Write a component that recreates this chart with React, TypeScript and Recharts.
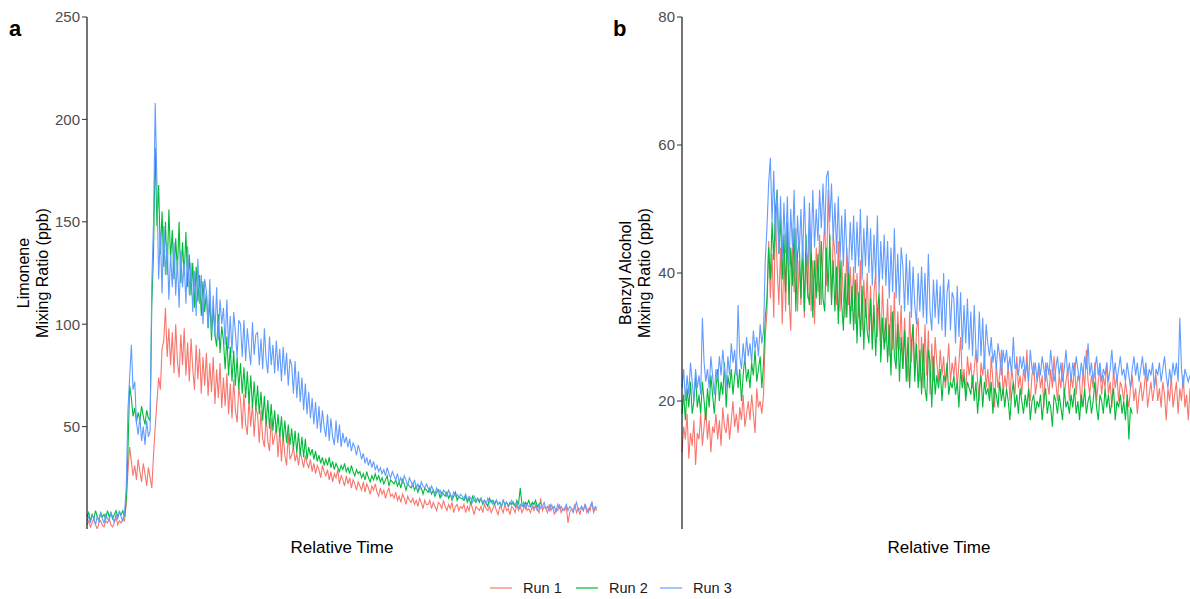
import React from 'react';
import { LineChart, Line, XAxis, YAxis } from 'recharts';

const FONT = '"Liberation Sans", Arial, Helvetica, sans-serif';
const runColors = ['#F8766D', '#00BA38', '#619CFF'];
const runLabels = ['Run 1', 'Run 2', 'Run 3'];
const limTicks = [50, 100, 150, 200, 250];
const benTicks = [20, 40, 60, 80];

// Panel a: Limonene mixing ratio (ppb), 300 time steps
const limRun1 = [
  2, 4, 1, 3, 5, 2, 0, 3, 4, 2,
  1, 4, 3, 5, 2, 1, 3, 6, 2, 4,
  3, 5, 4, 12, 28, 40, 33, 26, 31, 24,
  34, 28, 23, 32, 27, 21, 30, 25, 20, 36,
  50, 62, 74, 68, 88, 92, 108, 84, 98, 80,
  96, 76, 100, 82, 74, 95, 80, 98, 75, 91,
  72, 93, 78, 68, 90, 73, 88, 66, 84, 70,
  86, 65, 81, 67, 84, 61, 78, 64, 81, 59,
  74, 60, 76, 56, 71, 54, 73, 58, 52, 69,
  63, 49, 66, 51, 46, 64, 50, 61, 45, 59,
  56, 42, 58, 44, 40, 55, 43, 38, 54, 41,
  45, 50, 35, 48, 33, 46, 36, 31, 47, 34,
  36, 40, 33, 37, 31, 38, 34, 30, 36, 32,
  30, 34, 28, 32, 27, 31, 29, 25, 31, 28,
  26, 29, 24, 28, 23, 27, 25, 29, 22, 26,
  24, 21, 26, 22, 25, 20, 24, 22, 19, 23,
  21, 19, 23, 18, 22, 20, 17, 21, 19, 22,
  18, 16, 20, 17, 19, 15, 18, 20, 16, 17,
  15, 18, 14, 16, 13, 17, 15, 12, 16, 14,
  13, 15, 12, 14, 11, 15, 13, 10, 14, 12,
  12, 14, 10, 13, 11, 9, 13, 12, 10, 14,
  11, 9, 12, 10, 13, 8, 11, 12, 9, 11,
  10, 12, 8, 11, 9, 13, 10, 7, 11, 10,
  9, 11, 8, 12, 10, 9, 11, 8, 10, 12,
  9, 7, 11, 10, 8, 12, 9, 10, 7, 11,
  10, 8, 12, 9, 11, 8, 10, 13, 9, 10,
  8, 11, 9, 12, 10, 8, 15, 9, 11, 10,
  8, 12, 9, 11, 7, 10, 9, 12, 8, 10,
  9, 11, 3, 8, 10, 9, 12, 8, 10, 7,
  11, 9, 12, 8, 10, 9, 13, 8, 10, 9,
];
const limRun2 = [
  6, 8, 4, 7, 5, 9, 6, 4, 8, 6,
  7, 5, 9, 6, 8, 5, 7, 9, 6, 8,
  7, 9, 6, 14, 38, 70, 64, 55, 59, 52,
  57, 53, 60, 55, 51, 58, 54, 53, 110, 135,
  186, 148, 168, 134, 155, 128, 150, 124, 156, 132,
  146, 122, 142, 126, 150, 120, 140, 124, 145, 118,
  134, 114, 130, 108, 128, 111, 124, 104, 121, 106,
  116, 98, 112, 92, 108, 95, 89, 105, 86, 99,
  92, 78, 94, 75, 89, 72, 87, 70, 84, 68,
  81, 66, 79, 64, 77, 61, 75, 59, 72, 58,
  70, 56, 67, 53, 65, 51, 63, 49, 61, 48,
  58, 47, 56, 45, 55, 43, 53, 42, 51, 41,
  49, 39, 48, 37, 47, 36, 45, 35, 44, 34,
  40, 36, 39, 34, 38, 33, 36, 32, 35, 31,
  34, 31, 35, 30, 33, 29, 32, 30, 28, 31,
  29, 32, 28, 30, 27, 31, 28, 26, 29, 27,
  28, 25, 27, 24, 28, 25, 23, 26, 24, 27,
  24, 26, 23, 25, 22, 24, 26, 21, 24, 23,
  22, 24, 21, 23, 20, 24, 22, 19, 22, 21,
  20, 22, 19, 21, 18, 21, 20, 17, 20, 19,
  18, 20, 17, 19, 16, 18, 19, 15, 18, 17,
  16, 18, 15, 17, 14, 16, 18, 14, 16, 15,
  15, 14, 16, 13, 15, 12, 16, 14, 13, 15,
  13, 15, 12, 14, 13, 11, 15, 13, 14, 12,
  14, 12, 13, 11, 14, 12, 13, 11, 13, 12,
  13, 11, 14, 12, 20, 12, 11, 13, 12, 14,
  11, 13, 12, 14, 11, 12, 13,
];
const limRun3 = [
  4, 6, 3, 7, 5, 2, 6, 4, 8, 5,
  3, 7, 5, 4, 8, 6, 3, 7, 5, 9,
  6, 4, 8, 20, 58, 74, 90, 68, 72, 52,
  46, 55, 43, 50, 41, 53, 45, 48, 120, 150,
  208, 168, 122, 145, 115, 148, 124, 140, 112, 134,
  118, 140, 114, 132, 108, 136, 118, 130, 110, 138,
  114, 130, 106, 126, 104, 132, 110, 124, 100, 122,
  116, 98, 122, 96, 114, 94, 118, 92, 112, 100,
  108, 90, 112, 88, 104, 86, 106, 96, 84, 102,
  100, 84, 102, 82, 98, 88, 80, 101, 85, 95,
  96, 80, 93, 78, 98, 83, 76, 94, 80, 90,
  76, 92, 77, 88, 72, 89, 75, 86, 70, 83,
  80, 66, 82, 64, 77, 62, 74, 58, 71, 56,
  67, 54, 64, 51, 62, 49, 60, 47, 58, 50,
  45, 56, 43, 54, 45, 41, 53, 42, 51, 40,
  47, 42, 45, 40, 44, 38, 42, 40, 36, 41,
  38, 34, 37, 32, 35, 31, 34, 30, 33, 29,
  31, 28, 30, 27, 29, 26, 30, 27, 25, 28,
  26, 24, 27, 23, 25, 22, 26, 24, 21, 25,
  23, 21, 24, 20, 22, 19, 23, 21, 20, 22,
  20, 18, 21, 19, 17, 20, 18, 19, 16, 19,
  18, 16, 19, 17, 15, 18, 16, 17, 15, 17,
  16, 15, 17, 14, 16, 15, 13, 16, 14, 15,
  14, 15, 13, 14, 12, 15, 13, 14, 12, 13,
  14, 12, 13, 11, 14, 12, 13, 11, 12, 14,
  12, 11, 13, 10, 12, 11, 13, 10, 12, 11,
  11, 12, 10, 11, 9, 12, 10, 11, 13, 10,
  11, 9, 12, 10, 11, 8, 12, 10, 11, 9,
  10, 12, 9, 11, 10, 8, 11, 13, 9, 10,
  11, 9, 12, 10, 8, 11, 13, 9, 11, 10,
];

// Panel b: Benzyl alcohol mixing ratio (ppb), 300 time steps
const benRun1 = [
  12, 16, 14, 18, 11, 15, 13, 17, 10, 15,
  14, 18, 13, 16, 19, 14, 17, 12, 16, 15,
  18, 14, 17, 13, 19, 16, 15, 18, 14, 17,
  20, 16, 18, 15, 19, 17, 21, 16, 18, 20,
  17, 21, 18, 15, 22, 19, 20, 18, 21, 30,
  34, 45, 36, 43, 33, 49, 41, 35, 44, 32,
  43, 34, 46, 36, 31, 44, 37, 47, 34, 42,
  35, 45, 33, 43, 36, 48, 34, 42, 32, 44,
  37, 46, 35, 43, 48, 38, 53, 44, 36, 46,
  43, 35, 45, 34, 42, 36, 33, 44, 35, 41,
  34, 41, 32, 40, 33, 42, 31, 39, 33, 40,
  31, 38, 29, 37, 40, 30, 36, 28, 38, 31,
  29, 36, 27, 35, 28, 37, 26, 34, 28, 35,
  25, 33, 27, 23, 34, 26, 32, 24, 31, 33,
  23, 30, 22, 32, 24, 31, 21, 29, 23, 30,
  26, 23, 28, 24, 27, 22, 25, 29, 23, 26,
  24, 27, 22, 26, 30, 23, 25, 21, 27, 24,
  26, 22, 25, 28, 23, 20, 26, 24, 27, 22,
  25, 21, 27, 23, 19, 26, 22, 24, 28, 21,
  24, 22, 26, 20, 25, 23, 21, 27, 22, 24,
  21, 25, 23, 28, 22, 20, 24, 26, 21, 23,
  25, 22, 24, 19, 26, 23, 21, 25, 22, 27,
  23, 20, 24, 22, 26, 21, 23, 25, 20, 24,
  22, 26, 21, 24, 23, 19, 25, 22, 28, 23,
  21, 24, 22, 26, 20, 23, 25, 21, 24, 22,
  26, 21, 23, 19, 25, 22, 24, 20, 23, 22,
  20, 23, 21, 19, 22, 24, 20, 22, 18, 21,
  23, 20, 22, 25, 19, 21, 23, 20, 22, 24,
  20, 22, 19, 23, 21, 17, 22, 20, 24, 19,
  21, 23, 18, 22, 20, 24, 19, 21, 17, 22,
];
const benRun2 = [
  18, 21, 17, 22, 19, 23, 18, 20, 24, 19,
  21, 18, 23, 20, 17, 22, 19, 24, 21, 18,
  22, 25, 20, 23, 21, 26, 19, 24, 22, 25,
  21, 24, 26, 22, 25, 20, 24, 27, 23, 25,
  22, 26, 24, 28, 23, 25, 27, 22, 26, 33,
  36, 44, 39, 48, 42, 50, 53, 43, 49, 39,
  46, 37, 48, 35, 44, 38, 47, 34, 43, 45,
  36, 44, 34, 46, 37, 35, 45, 33, 42, 36,
  43, 35, 45, 36, 34, 44, 37, 46, 35, 42,
  34, 41, 32, 42, 35, 31, 40, 33, 41, 32,
  38, 31, 39, 29, 37, 30, 38, 28, 36, 31,
  29, 36, 28, 35, 27, 34, 37, 26, 33, 28,
  33, 26, 32, 24, 34, 27, 25, 32, 23, 30,
  25, 31, 23, 30, 22, 29, 32, 23, 29, 22,
  28, 21, 29, 22, 20, 28, 26, 19, 27, 21,
  24, 22, 25, 20, 24, 23, 26, 21, 23, 22,
  24, 21, 23, 19, 25, 22, 24, 20, 23, 22,
  21, 24, 20, 23, 18, 22, 24, 19, 23, 21,
  22, 20, 23, 18, 22, 21, 19, 23, 20, 22,
  19, 22, 20, 17, 21, 23, 19, 21, 18, 22,
  20, 18, 21, 19, 22, 17, 20, 21, 18, 20,
  19, 21, 17, 20, 22, 18, 20, 19, 16, 21,
  20, 18, 21, 19, 17, 22, 19, 20, 18, 21,
  19, 22, 18, 20, 17, 21, 19, 22, 18, 20,
  21, 18, 20, 23, 19, 17, 21, 20, 18, 22,
  19, 21, 18, 20, 22, 17, 20, 19, 21, 18,
  20, 17, 21, 14, 19, 18,
];
const benRun3 = [
  22, 25, 20, 24, 21, 26, 23, 20, 25, 22,
  24, 21, 33, 26, 23, 25, 22, 27, 24, 21,
  25, 23, 27, 24, 28, 25, 22, 27, 24, 29,
  26, 28, 24, 35, 27, 25, 29, 26, 30, 27,
  29, 26, 31, 28, 30, 27, 32, 29, 31, 42,
  47, 54, 58, 48, 56, 45, 53, 43, 52, 42,
  51, 43, 52, 41, 50, 44, 53, 40, 49, 43,
  50, 42, 52, 44, 41, 51, 43, 53, 44, 50,
  45, 53, 47, 54, 46, 55, 56, 48, 54, 45,
  51, 43, 52, 42, 49, 41, 50, 43, 40, 48,
  42, 49, 40, 48, 41, 50, 39, 47, 41, 49,
  40, 47, 38, 46, 39, 49, 37, 45, 39, 46,
  38, 45, 36, 44, 37, 47, 36, 43, 35, 44,
  41, 34, 43, 35, 42, 33, 41, 35, 32, 40,
  34, 41, 33, 40, 32, 43, 34, 31, 39, 33,
  39, 32, 38, 31, 40, 30, 37, 39, 31, 37,
  36, 29, 38, 30, 37, 28, 35, 29, 36, 28,
  34, 27, 35, 28, 26, 34, 27, 33, 25, 32,
  29, 27, 30, 26, 28, 25, 29, 27, 24, 28,
  26, 28, 25, 27, 24, 30, 25, 26, 24, 27,
  25, 27, 24, 26, 23, 28, 25, 24, 26, 23,
  26, 24, 27, 25, 23, 26, 24, 28, 25, 23,
  25, 27, 24, 26, 23, 25, 28, 24, 26, 23,
  26, 24, 27, 25, 23, 26, 24, 27, 25, 29,
  24, 26, 23, 25, 27, 24, 26, 23, 25, 24,
  26, 23, 25, 28, 24, 26, 23, 25, 27, 24,
  25, 23, 26, 24, 22, 25, 27, 24, 26, 23,
  25, 27, 24, 26, 23, 25, 24, 26, 22, 25,
  24, 26, 23, 25, 27, 24, 22, 25, 23, 26,
  24, 26, 23, 33, 25, 22, 25, 24, 23, 24,
];

type Row = { t: number; r1: number | null; r2: number | null; r3: number | null };
function build(a: number[], b: number[], c: number[]): Row[] {
  const n = Math.max(a.length, b.length, c.length);
  const rows: Row[] = [];
  for (let i = 0; i < n; i++) {
    rows.push({
      t: i,
      r1: i < a.length ? a[i] : null,
      r2: i < b.length ? b[i] : null,
      r3: i < c.length ? c[i] : null,
    });
  }
  return rows;
}

const limData = build(limRun1, limRun2, limRun3);
const benData = build(benRun1, benRun2, benRun3);

const TICK_STYLE = { fill: '#4D4D4D', fontSize: 15, fontFamily: FONT };

function Panel({ left, width, data, domain, ticks }: { left: number; width: number; data: Row[]; domain: [number, number]; ticks: number[] }) {
  return (
    <div style={{ position: 'absolute', left, top: 0 }}>
      <LineChart width={width} height={560} data={data} margin={{ top: 17, right: 3, bottom: 31, left: 0 }}>
        <XAxis
          dataKey="t"
          type="number"
          domain={[0, data.length - 1]}
          tick={false}
          tickLine={false}
          height={0}
          axisLine={{ stroke: '#000', strokeWidth: 1.1 }}
        />
        <YAxis
          type="number"
          domain={domain}
          ticks={ticks}
          width={87}
          tickSize={5}
          tickMargin={2}
          tick={TICK_STYLE}
          tickLine={{ stroke: '#333' }}
          axisLine={{ stroke: '#000', strokeWidth: 1.1 }}
          allowDataOverflow
        />
        {['r1', 'r2', 'r3'].map((k, i) => (
          <Line
            key={k}
            dataKey={k}
            type="linear"
            stroke={runColors[i]}
            strokeWidth={1.1}
            dot={false}
            activeDot={false}
            connectNulls={false}
            isAnimationActive={false}
          />
        ))}
      </LineChart>
    </div>
  );
}

export default function App() {
  const legendX = [490, 576, 660];
  return (
    <div style={{ position: 'absolute', left: 0, top: 0, width: 1190, height: 599, background: '#fff', overflow: 'hidden' }}>
      <Panel left={0} width={600} data={limData} domain={[0, 250]} ticks={limTicks} />
      <Panel left={595} width={598} data={benData} domain={[0, 80]} ticks={benTicks} />
      <svg width={1190} height={599} style={{ position: 'absolute', left: 0, top: 0, pointerEvents: 'none' }}>
        <g fontFamily={FONT} fill="#000">
          <text x={9} y={36} fontSize={22} fontWeight="bold">a</text>
          <text x={613} y={36} fontSize={22} fontWeight="bold">b</text>
          <text x={342} y={553} fontSize={17} textAnchor="middle">Relative Time</text>
          <text x={939} y={553} fontSize={17} textAnchor="middle">Relative Time</text>
          <text transform="translate(28.5,273) rotate(-90)" fontSize={16} textAnchor="middle">Limonene</text>
          <text transform="translate(47.5,273) rotate(-90)" fontSize={16} textAnchor="middle">Mixing Ratio (ppb)</text>
          <text transform="translate(631,273) rotate(-90)" fontSize={16} textAnchor="middle">Benzyl Alcohol</text>
          <text transform="translate(650,273) rotate(-90)" fontSize={16} textAnchor="middle">Mixing Ratio (ppb)</text>
          {runLabels.map((lab, i) => (
            <g key={lab}>
              <line x1={legendX[i]} x2={legendX[i] + 22} y1={588} y2={588} stroke={runColors[i]} strokeWidth={1.2} />
              <text x={legendX[i] + 33} y={593} fontSize={14.5} fill="#1a1a1a">{lab}</text>
            </g>
          ))}
        </g>
      </svg>
    </div>
  );
}
